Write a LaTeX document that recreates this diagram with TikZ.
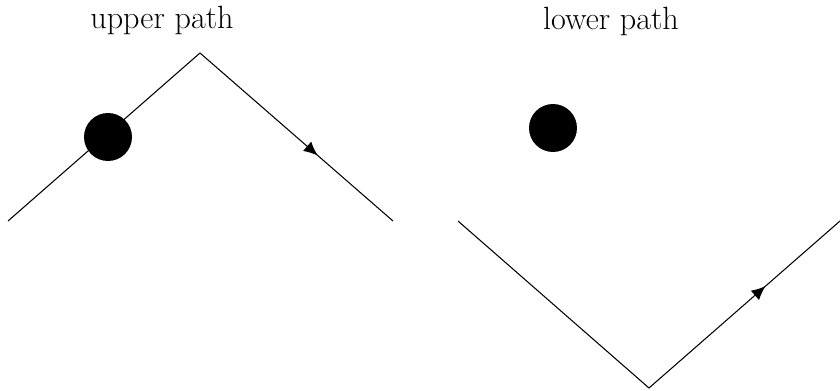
\documentclass[tikz,border=0pt]{standalone}
\usetikzlibrary{arrows.meta,decorations.markings}

\begin{document}
\begin{tikzpicture}[
  x=0.02cm, y=0.02cm,
  route/.style={black, line width=0.6pt},
  flow/.style={postaction={decorate}, decoration={markings,
      mark=at position 0.61 with {\arrow{Latex[length=2.8mm,width=2.5mm]}}}},
  ball/.style={circle, fill=black, minimum size=0.96cm, inner sep=0pt},
  title/.style={anchor=base, font=\fontsize{18.3}{21}\selectfont}
]
\useasboundingbox (0,0) rectangle (840,390);
% upper path
\coordinate (ua) at (8,169);
\coordinate (ub) at (200,337);
\coordinate (uc) at (393,169);
\draw[route] (ua) -- (ub);
\draw[route, flow] (ub) -- (uc);
\node[ball] (uball) at (108,253) {};
\node[title] (utext) at (162,362) {upper path};

% lower path
\coordinate (la) at (458,169);
\coordinate (lb) at (649,2);
\coordinate (lc) at (840,169);
\draw[route] (la) -- (lb);
\draw[route, flow] (lb) -- (lc);
\node[ball] (lball) at (553,262) {};
\node[title] (ltext) at (611,361) {lower path};
\end{tikzpicture}
\end{document}
